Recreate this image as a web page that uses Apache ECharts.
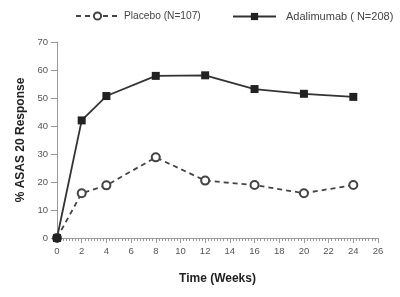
<!DOCTYPE html>
<html><head><meta charset="utf-8">
<script src="https://cdn.jsdelivr.net/npm/echarts@6/dist/echarts.min.js"></script>
<style>html,body{margin:0;padding:0;background:#fff}#c{width:400px;height:297px}</style>
</head><body><div id="c"></div>
<script>
const weeks = [0, 2, 4, 8, 12, 16, 20, 24];
const placebo = [0, 16, 18.8, 28.8, 20.5, 18.9, 16, 18.9];
const adalimumab = [0, 42, 50.7, 57.9, 58.1, 53.2, 51.5, 50.4];
const xTicks = [0, 2, 4, 6, 8, 10, 12, 14, 16, 18, 20, 22, 24, 26];
const yTicks = [0, 10, 20, 30, 40, 50, 60, 70];
const names = ['Placebo (N=107)', 'Adalimumab ( N=208)'];

const chart = echarts.init(document.getElementById('c'));
const axisGrey = '#999';
chart.setOption({
  animation: false,
  backgroundColor: '#fff',
  legend: [
    { top: 6, left: 70, itemWidth: 43, itemHeight: 9,
      textStyle: { fontFamily: 'Liberation Sans', fontSize: 10.2, color: '#444' }, data: [names[0]] },
    { top: 6, left: 227, itemWidth: 43, itemHeight: 9,
      textStyle: { fontFamily: 'Liberation Sans', fontSize: 11, color: '#444', padding: [0, 0, 0, 5] }, data: [names[1]] }
  ],
  grid: { left: 57, right: 22, top: 42, bottom: 59 },
  xAxis: {
    type: 'value', min: 0, max: 26, interval: 2,
    name: 'Time (Weeks)', nameLocation: 'middle', nameGap: 35,
    nameTextStyle: { fontFamily: 'Liberation Sans', fontWeight: 'bold', fontSize: 12, color: '#222' },
    axisLine: { show: true, lineStyle: { color: axisGrey, width: 1 } },
    axisTick: { show: true, length: 5, lineStyle: { color: axisGrey } },
    minorTick: { show: true, splitNumber: 8, length: 3, lineStyle: { color: axisGrey } },
    splitLine: { show: false },
    axisLabel: { fontFamily: 'Liberation Sans', fontSize: 9.5, color: '#555', margin: 8,
      formatter: v => xTicks.includes(v) ? String(v) : '' }
  },
  yAxis: {
    type: 'value', min: 0, max: 70, interval: 10,
    name: '% ASAS 20 Response', nameLocation: 'middle', nameGap: 28,
    nameTextStyle: { fontFamily: 'Liberation Sans', fontWeight: 'bold', fontSize: 12, color: '#222' },
    axisLine: { show: true, lineStyle: { color: axisGrey, width: 1 } },
    axisTick: { show: true, length: 6, lineStyle: { color: axisGrey } },
    splitLine: { show: false },
    axisLabel: { fontFamily: 'Liberation Sans', fontSize: 9.5, color: '#555', margin: 9,
      formatter: v => yTicks.includes(v) ? String(v) : '' }
  },
  series: [
    {
      name: names[0], type: 'line',
      data: weeks.map((w, i) => [w, placebo[i]]),
      symbol: 'emptyCircle', symbolSize: 8, showSymbol: true, showAllSymbol: true,
      color: '#444',
      lineStyle: { color: '#444', width: 1.8, type: [5, 4] },
      itemStyle: { color: '#444', borderWidth: 1.3 },
      z: 2
    },
    {
      name: names[1], type: 'line',
      data: weeks.map((w, i) => [w, adalimumab[i]]),
      symbol: 'rect', symbolSize: 8,
      color: '#222',
      lineStyle: { color: '#333', width: 1.8 },
      itemStyle: { color: '#222' },
      z: 3
    }
  ]
});
</script></body></html>
